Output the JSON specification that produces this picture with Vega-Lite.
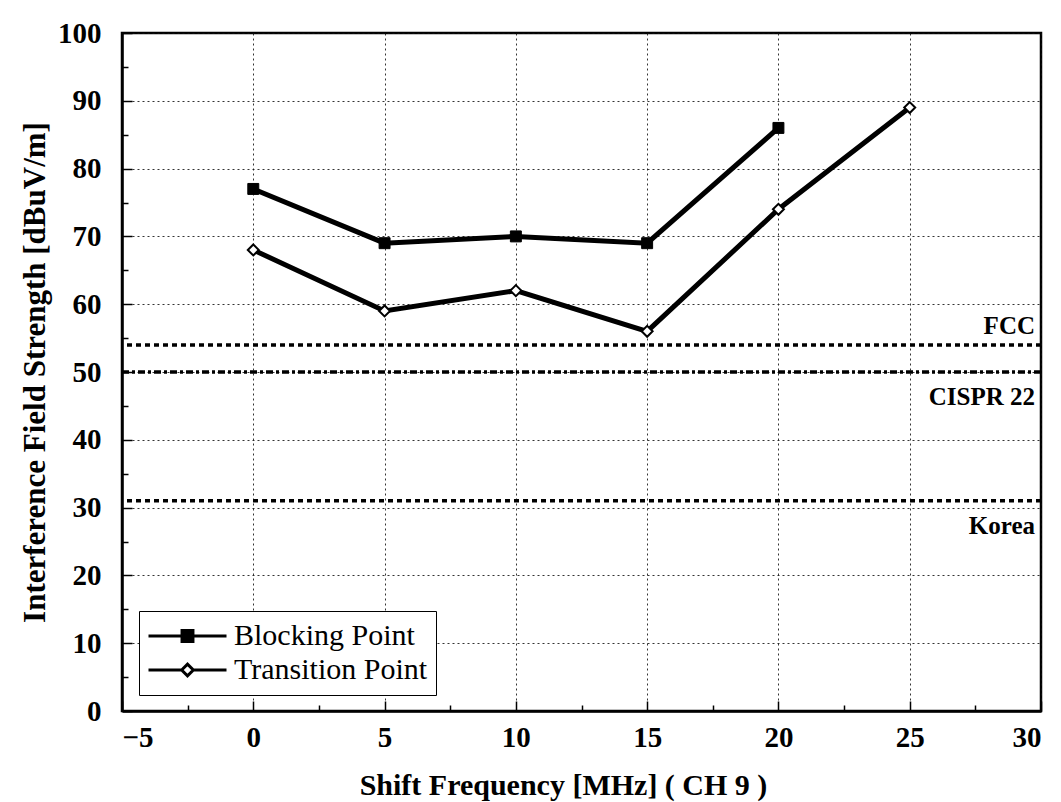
{
  "$schema": "https://vega.github.io/schema/vega-lite/v6.json",
  "width": 919,
  "height": 678,
  "autosize": {"type": "none"},
  "padding": {"left": 122, "top": 33, "right": 20, "bottom": 91},
  "background": "white",
  "config": {
    "view": {"stroke": "black", "strokeWidth": 2.5},
    "font": "Liberation Serif",
    "axis": {
      "domainColor": "black",
      "domainWidth": 2.5,
      "tickColor": "black",
      "tickWidth": 1.5,
      "labelFont": "Liberation Serif",
      "labelFontWeight": "bold",
      "labelFontSize": 29,
      "labelColor": "black",
      "titleFont": "Liberation Serif",
      "titleFontWeight": "bold",
      "titleColor": "black",
      "gridColor": "#111",
      "gridDash": [2, 3],
      "gridWidth": 1,
      "gridOpacity": 0.85
    }
  },
  "datasets": {
    "series": [
      {"series": "Blocking Point", "shift": 0, "field": 77},
      {"series": "Blocking Point", "shift": 5, "field": 69},
      {"series": "Blocking Point", "shift": 10, "field": 70},
      {"series": "Blocking Point", "shift": 15, "field": 69},
      {"series": "Blocking Point", "shift": 20, "field": 86},
      {"series": "Transition Point", "shift": 0, "field": 68},
      {"series": "Transition Point", "shift": 5, "field": 59},
      {"series": "Transition Point", "shift": 10, "field": 62},
      {"series": "Transition Point", "shift": 15, "field": 56},
      {"series": "Transition Point", "shift": 20, "field": 74},
      {"series": "Transition Point", "shift": 25, "field": 89}
    ],
    "limits": [
      {"limit": "FCC", "level": 54, "edge": 30},
      {"limit": "CISPR 22", "level": 50, "edge": 30},
      {"limit": "Korea", "level": 31, "edge": 30}
    ]
  },
  "resolve": {"axis": {"x": "independent", "y": "independent"}},
  "layer": [
    {
      "data": {"name": "limits"},
      "mark": {"type": "rule", "strokeWidth": 3.5, "color": "black"},
      "encoding": {
        "y": {
          "field": "level", "type": "quantitative",
          "scale": {"domain": [0, 100], "nice": false, "zero": false},
          "axis": {
            "orient": "left",
            "values": [0, 10, 20, 30, 40, 50, 60, 70, 80, 90, 100],
            "title": "Interference Field Strength [dBuV/m]",
            "titleFontSize": 31,
            "tickSize": -10,
            "labelPadding": 31,
            "titlePadding": 6,
            "grid": true
          }
        },
        "strokeDash": {
          "field": "limit", "type": "nominal",
          "scale": {"domain": ["FCC", "CISPR 22", "Korea"], "range": [[5, 4], [7, 3, 3, 3], [5, 4]]},
          "legend": null
        }
      }
    },
    {
      "data": {"name": "series"},
      "mark": {"type": "line", "color": "black", "strokeWidth": 5},
      "encoding": {
        "x": {
          "field": "shift", "type": "quantitative",
          "scale": {"domain": [-5, 30], "nice": false, "zero": false},
          "axis": {
            "orient": "bottom",
            "values": [-5, 0, 5, 10, 15, 20, 25, 30],
            "title": "Shift Frequency [MHz] ( CH 9 )",
            "titleFontSize": 30,
            "titleX": 441,
            "tickSize": -10,
            "labelPadding": 22,
            "titlePadding": 18,
            "grid": true
          }
        },
        "y": {
          "field": "field", "type": "quantitative",
          "axis": {
            "orient": "left",
            "values": [5, 15, 25, 35, 45, 55, 65, 75, 85, 95],
            "labels": false, "title": null, "grid": false, "domain": false,
            "tickSize": -6
          }
        },
        "detail": {"field": "series", "type": "nominal"}
      }
    },
    {
      "data": {"name": "series"},
      "transform": [{"filter": "datum.series === 'Blocking Point'"}],
      "mark": {"type": "point", "shape": "square", "filled": true, "fill": "black", "stroke": "black", "strokeWidth": 1, "opacity": 1, "size": 120},
      "encoding": {
        "x": {
          "field": "shift", "type": "quantitative",
          "axis": {
            "orient": "bottom",
            "values": [-2.5, 2.5, 7.5, 12.5, 17.5, 22.5, 27.5],
            "labels": false, "title": null, "grid": false, "domain": false,
            "tickSize": -6
          }
        },
        "y": {"field": "field", "type": "quantitative", "axis": null}
      }
    },
    {
      "data": {"name": "series"},
      "transform": [{"filter": "datum.series === 'Transition Point'"}],
      "mark": {"type": "point", "shape": "diamond", "filled": true, "fill": "white", "stroke": "black", "strokeWidth": 2, "opacity": 1, "size": 120},
      "encoding": {
        "x": {"field": "shift", "type": "quantitative", "axis": null},
        "y": {"field": "field", "type": "quantitative", "axis": null}
      }
    },
    {
      "data": {"name": "series"},
      "transform": [{"filter": "false"}],
      "mark": {"type": "point", "filled": true, "strokeWidth": 3, "opacity": 1},
      "encoding": {
        "x": {"field": "shift", "type": "quantitative", "axis": null},
        "y": {"field": "field", "type": "quantitative", "axis": null},
        "shape": {
          "field": "series", "type": "nominal",
          "scale": {
            "domain": ["Blocking Point", "Transition Point"],
            "range": ["M-1,0H1M-0.14,-0.14H0.14V0.14H-0.14Z", "M-1,0H-0.15M0.15,0H1M-0.15,0L0,-0.15L0.15,0L0,0.15Z"]
          },
          "legend": {
            "title": null,
            "orient": "none",
            "legendX": 17,
            "legendY": 578,
            "direction": "vertical",
            "strokeColor": "black",
            "fillColor": "white",
            "padding": 8,
            "symbolSize": 6084,
            "symbolStrokeWidth": 3,
            "clipHeight": 34,
            "rowPadding": 0,
            "labelFont": "Liberation Serif",
            "labelFontSize": 30,
            "labelColor": "black",
            "labelLimit": 400,
            "labelOffset": 6
          }
        },
        "fill": {
          "field": "series", "type": "nominal",
          "scale": {"domain": ["Blocking Point", "Transition Point"], "range": ["black", "white"]},
          "legend": {
            "title": null,
            "orient": "none",
            "legendX": 17,
            "legendY": 578,
            "direction": "vertical",
            "strokeColor": "black",
            "fillColor": "white",
            "padding": 8,
            "symbolSize": 6084,
            "symbolStrokeWidth": 3,
            "clipHeight": 34,
            "rowPadding": 0,
            "labelFont": "Liberation Serif",
            "labelFontSize": 30,
            "labelColor": "black",
            "labelLimit": 400,
            "labelOffset": 6
          }
        },
        "stroke": {
          "field": "series", "type": "nominal",
          "scale": {"domain": ["Blocking Point", "Transition Point"], "range": ["black", "black"]},
          "legend": {
            "title": null,
            "orient": "none",
            "legendX": 17,
            "legendY": 578,
            "direction": "vertical",
            "strokeColor": "black",
            "fillColor": "white",
            "padding": 8,
            "symbolSize": 6084,
            "symbolStrokeWidth": 3,
            "clipHeight": 34,
            "rowPadding": 0,
            "labelFont": "Liberation Serif",
            "labelFontSize": 30,
            "labelColor": "black",
            "labelLimit": 400,
            "labelOffset": 6
          }
        }
      }
    },
    {
      "data": {"name": "limits"},
      "transform": [{"filter": "datum.limit === 'FCC'"}],
      "mark": {"type": "text", "align": "right", "baseline": "middle", "dx": -6, "dy": -19, "font": "Liberation Serif", "fontWeight": "bold", "fontSize": 25, "color": "black"},
      "encoding": {
        "x": {"field": "edge", "type": "quantitative", "axis": null},
        "y": {"field": "level", "type": "quantitative", "axis": null},
        "text": {"field": "limit", "type": "nominal"}
      }
    },
    {
      "data": {"name": "limits"},
      "transform": [{"filter": "datum.limit !== 'FCC'"}],
      "mark": {"type": "text", "align": "right", "baseline": "middle", "dx": -6, "dy": 25, "font": "Liberation Serif", "fontWeight": "bold", "fontSize": 25, "color": "black"},
      "encoding": {
        "x": {"field": "edge", "type": "quantitative", "axis": null},
        "y": {"field": "level", "type": "quantitative", "axis": null},
        "text": {"field": "limit", "type": "nominal"}
      }
    }
  ]
}
